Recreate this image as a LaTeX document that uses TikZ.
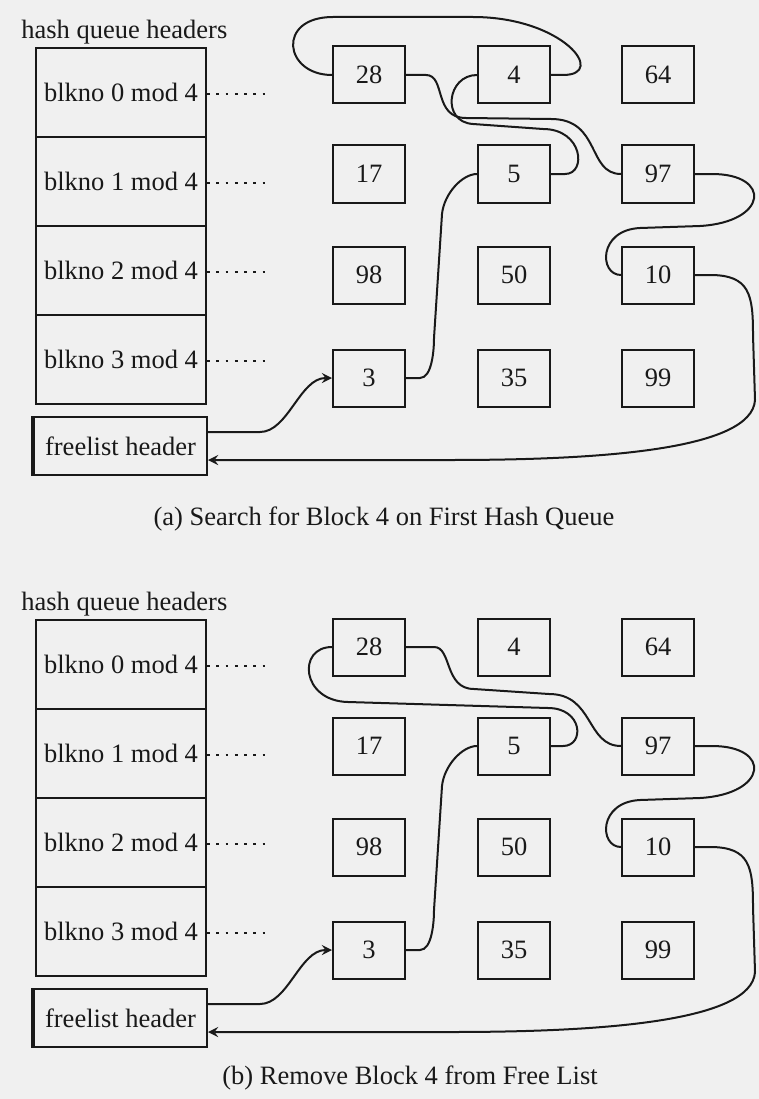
\documentclass[tikz,border=0pt]{standalone}
\usepackage{fontspec}
\setmainfont{Liberation Serif}
\tikzset{
  blk/.style={draw, minimum width=28.8pt, minimum height=22.8pt, inner sep=0pt},
  hrow/.style={draw, minimum width=68pt, minimum height=35.6pt, inner sep=0pt},
  flbox/.style={draw, minimum width=69.2pt, minimum height=23.2pt, inner sep=0pt},
  dots/.style={line width=1.1pt, dash pattern=on 1.1pt off 2.6pt}
}
\begin{document}
\begin{tikzpicture}[x=0.4pt, y=-0.4pt, >=stealth, line width=0.8pt, color=black!90, font=\fontsize{10.6}{12}\selectfont]
  \fill[black!6] (0,0) rectangle (759,1099);
  \useasboundingbox (0,0) rectangle (759,1099);
  \foreach \p/\oy in {a/0, b/572} {
    \begin{scope}[shift={(0,\oy)}]
      \node[anchor=west] (\p-title) at (12,32) {hash queue headers};
      \node[hrow] (\p-h0) at (121,92.5) {blkno 0 mod 4};
      \node[hrow] (\p-h1) at (121,181.5) {blkno 1 mod 4};
      \node[hrow] (\p-h2) at (121,270.5) {blkno 2 mod 4};
      \node[hrow] (\p-h3) at (121,359.5) {blkno 3 mod 4};
      \foreach \r in {0,...,3}
        \draw[dots] ([yshift=-0.6pt]\p-h\r.east) -- ++(62,0);
      \node[flbox] (\p-fl) at (120.5,446) {freelist header};
      \draw[line width=1.6pt] (\p-fl.north west) -- (\p-fl.south west);
      \foreach \v/\x/\y in {28/369/75, 4/514/75, 64/658/75,
                            17/369/174, 5/514/174, 97/658/174,
                            98/369/275, 50/514/275, 10/658/275,
                            3/369/378, 35/514/378, 99/658/378}
        \node[blk] (\p-\v) at (\x,\y) {\v};
      \draw[->] ([yshift=5.6pt]\p-fl.east) -- ++(52,0) .. controls +(28,0) and +(-32,0) .. (\p-3.west);
      \draw (\p-3.east) -- ++(14,0) .. controls +(12,0) and +(0,12) .. ++(14,-40) -- ++(8,-124) .. controls +(2,-20) and +(-15,0) .. (\p-5.west);
      \draw (\p-97.east) -- ++(17,0) .. controls +(60,0) and +(68,-4) .. ++(-12,52) -- ++(-60,2) .. controls +(-42,2) and +(-22,0) .. (\p-10.west);
      \draw[->] (\p-10.east) -- ++(15,0) .. controls +(40,0) and +(0,-40) .. ++(43,60) -- ++(2,65) .. controls +(-3,50) and +(150,0) .. ++(-305,60) -- ([yshift=-5.6pt]\p-fl.east);
    \end{scope}
  }
  % (a) block 4 still on the free list
  \draw (a-4.east) -- ++(12,0) .. controls +(45,0) and +(90,0) .. ++(-90,-58) -- ++(-140,0) .. controls +(-57,0) and +(-48,0) .. (a-28.west);
  \draw (a-5.east) -- ++(14,0) .. controls +(22,0) and +(40,0) .. ++(-22,-45) -- ++(-70,-5) .. controls +(-32,-2) and +(-30,0) .. (a-4.west);
  \draw (a-28.east) -- ++(20,0) .. controls +(20,0) and +(-33,0) .. ++(40,43) -- ++(85,1) .. controls +(50,0) and +(-34,0) .. (a-97.west);
  % (b) block 4 taken out
  \draw (b-28.east) -- ++(28,0) .. controls +(18,0) and +(-30,0) .. ++(40,42) -- ++(75,5) .. controls +(45,0) and +(-35,0) .. (b-97.west);
  \draw (b-5.east) -- ++(12,0) .. controls +(22,0) and +(35,0) .. ++(-15,-38) -- ++(-200,-6) .. controls +(-47,-1) and +(-35,0) .. (b-28.west);
  \node (a-cap) at (384,519) {(a) Search for Block 4 on First Hash Queue};
  \node (b-cap) at (410,1078) {(b) Remove Block 4 from Free List};
\end{tikzpicture}
\end{document}
